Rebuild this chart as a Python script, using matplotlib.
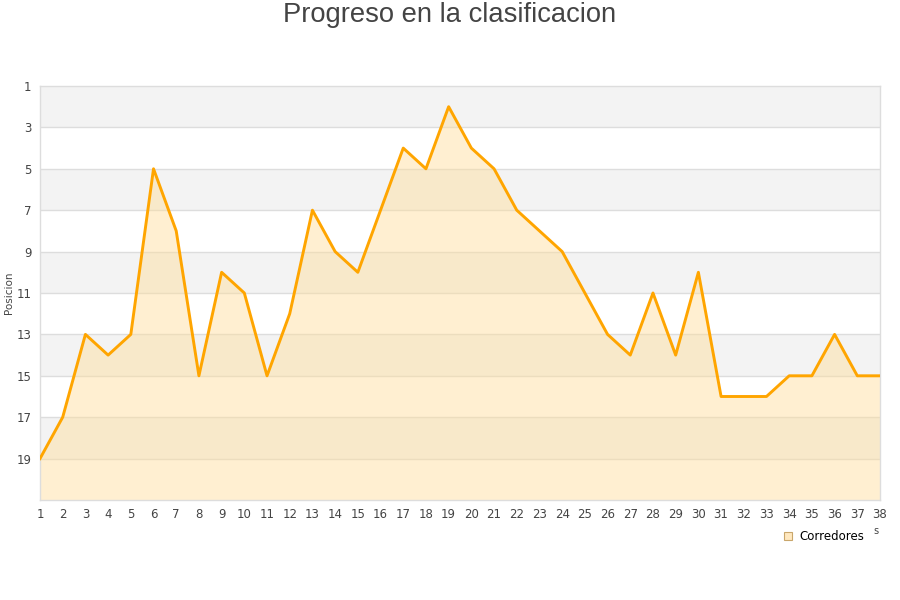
import matplotlib
matplotlib.use('Agg')
import matplotlib.pyplot as plt
from matplotlib.lines import Line2D

# ============ DATOS ============
jornadas = list(range(1, 39))
posicion = [19, 17, 13, 14, 13, 5, 8, 15, 10, 11, 15, 12, 7, 9, 10, 7, 4, 5, 2, 4,
            5, 7, 8, 9, 11, 13, 14, 11, 14, 10, 16, 16, 16, 15, 15, 13, 15, 15]
y_ticks = [1, 3, 5, 7, 9, 11, 13, 15, 17, 19]

fig = plt.figure(figsize=(9, 6), dpi=100)
ax = fig.add_axes([40/900, 100/600, 840/900, 414/600])

# bandas alternas
for i, t in enumerate(y_ticks):
    if i % 2 == 0:
        ax.axhspan(t, t + 2, color='#f3f3f3', zorder=0, lw=0)
for t in y_ticks[1:]:
    ax.axhline(t, color='#dddddd', lw=1, zorder=1)

ax.fill_between(jornadas, posicion, 21, color='#ffdd99', alpha=0.45, lw=0, zorder=2)
ax.plot(jornadas, posicion, color='#ffa500', lw=2.1, zorder=3)

ax.set_xlim(1, 38)
ax.set_ylim(21, 1)
ax.set_xticks(jornadas)
ax.set_yticks(y_ticks)
ax.tick_params(length=0, labelsize=8.5, colors='#444444', pad=6)
ax.tick_params(axis='y', pad=6)
for s in ax.spines.values():
    s.set_color('#dddddd')
    s.set_linewidth(1)

fig.text(9/900, 1 - 293/600, 'Posicion', rotation=90, fontsize=7.5, color='#444444',
         ha='center', va='center')
fig.text(0.5, 1 - 15/600, 'Progreso en la clasificacion', ha='center', va='center',
         fontsize=19.7, color='#444444', family='Liberation Sans')
fig.text(873/900, 1 - 531/600, 's', fontsize=7, color='#444444', ha='left', va='center')

handle = Line2D([], [], marker='s', linestyle='none', markersize=6,
                markerfacecolor='#ffe8bf', markeredgecolor='#c9a66b', markeredgewidth=0.8)
fig.legend([handle], ['Corredores'], loc='center left', bbox_to_anchor=(776/900, 1 - 537/600),
           frameon=False, fontsize=8.5, handletextpad=0.5, borderpad=0, handlelength=1)

fig.savefig('out.png', dpi=100)
